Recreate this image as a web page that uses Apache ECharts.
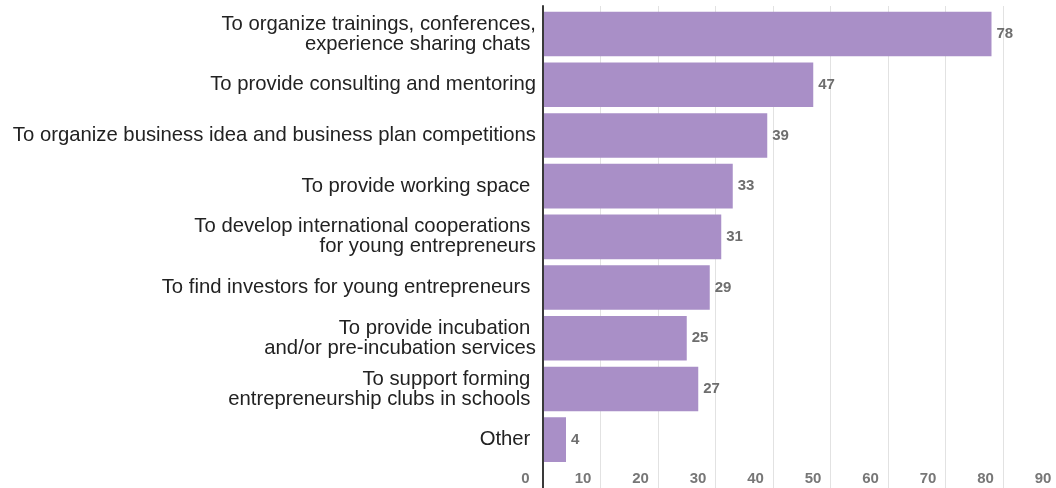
<!DOCTYPE html>
<html>
<head>
<meta charset="utf-8">
<script src="https://cdn.jsdelivr.net/npm/echarts@6/dist/echarts.min.js"></script>
<style>
  html, body { margin: 0; padding: 0; background: #ffffff; overflow: hidden; }
  /* the value axis runs a little past the right edge of the window */
  #chart { width: 1072px; height: 488px; }
</style>
</head>
<body>
<div id="chart"></div>
<script>
// Survey answers: what support programmes should do for young entrepreneurs
const categories = [
  'To organize trainings, conferences,\nexperience sharing chats ',
  'To provide consulting and mentoring',
  'To organize business idea and business plan competitions',
  'To provide working space ',
  'To develop international cooperations \nfor young entrepreneurs',
  'To find investors for young entrepreneurs ',
  'To provide incubation \nand/or pre-incubation services',
  'To support forming \nentrepreneurship clubs in schools ',
  'Other '
];
const responses = [78, 47, 39, 33, 31, 29, 25, 27, 4];
const axisMin = 0;
const axisMax = 90;
const axisStep = 10;

const chart = echarts.init(document.getElementById('chart'), null, { renderer: 'canvas' });

const plotLeft = 543;
const plotWidth = 517.5;

chart.setOption({
  animation: false,
  backgroundColor: '#ffffff',
  grid: [
    // bars
    { left: plotLeft, width: plotWidth, top: 8.7, bottom: 23, containLabel: false, outerBoundsMode: 'none' },
    // full-height frame: gridlines, value labels, left axis line
    { left: plotLeft, width: plotWidth, top: 6, bottom: 0, containLabel: false, outerBoundsMode: 'none' }
  ],
  xAxis: [
    { gridIndex: 0, type: 'value', min: axisMin, max: axisMax, interval: axisStep, show: false },
    {
      gridIndex: 1, type: 'value', min: axisMin, max: axisMax, interval: axisStep,
      position: 'bottom', z: 0,
      axisLine: { show: false },
      axisTick: { show: false },
      splitLine: { show: true, lineStyle: { color: '#e2e2e2', width: 1 } },
      axisLabel: {
        inside: true, margin: 2,
        color: '#777777', fontSize: 15, fontWeight: 'bold',
        fontFamily: 'Liberation Sans, Arial, sans-serif',
        padding: [0, 35, 0, 0]
      }
    }
  ],
  yAxis: [
    {
      gridIndex: 0, type: 'category', data: categories, inverse: true,
      axisLine: { show: false },
      axisTick: { show: false },
      splitLine: { show: false },
      axisLabel: {
        margin: 7, color: '#222222', fontSize: 20.3, lineHeight: 20,
        fontFamily: 'Liberation Sans, Arial, sans-serif', align: 'right'
      }
    },
    {
      gridIndex: 1, type: 'value', min: 0, max: 1, z: 5,
      axisLine: { show: true, lineStyle: { color: '#3a3a3a', width: 2 } },
      axisTick: { show: false },
      axisLabel: { show: false },
      splitLine: { show: false }
    }
  ],
  series: [
    {
      type: 'bar',
      xAxisIndex: 0,
      yAxisIndex: 0,
      data: responses,
      barCategoryGap: '12%',
      itemStyle: { color: '#a98fc7' },
      label: {
        show: true, position: 'right', distance: 5,
        color: '#6e6e6e', fontSize: 15, fontWeight: 'bold',
        fontFamily: 'Liberation Sans, Arial, sans-serif'
      }
    }
  ]
});
</script>
</body>
</html>
